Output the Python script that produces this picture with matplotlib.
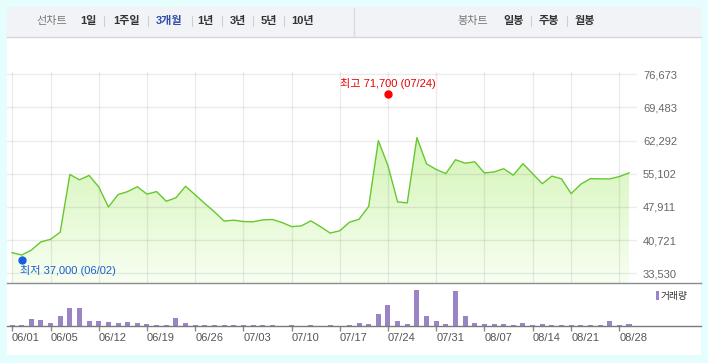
import matplotlib
matplotlib.use("Agg")
import matplotlib.pyplot as plt
import numpy as np
import pandas as pd
from matplotlib.lines import Line2D
from matplotlib.patches import Rectangle, PathPatch
from matplotlib.colors import LinearSegmentedColormap
from matplotlib.transforms import ScaledTranslation

plt.rcParams["font.family"] = ["Liberation Sans", "Noto Sans CJK KR", "DejaVu Sans"]

# trading days 2020-06-01 .. 2020-08-31, 08/17 was a holiday
days = pd.bdate_range("2020-06-01", "2020-08-31")
days = days[days != pd.Timestamp("2020-08-17")]
dates = [d.strftime("%m/%d") for d in days]

close = [
    38000, 37500, 38550, 40350, 40900, 42450, 54950, 53800, 54750, 52250,
    47900, 50600, 51250, 52300, 50700, 51250, 49150, 49900, 52400, 50550,
    48650, 46850, 44850, 45050, 44750, 44700, 45100, 45200, 44550, 43650,
    43800, 44900, 43650, 42250, 42750, 44600, 45250, 48050, 62300, 56850,
    49000, 48800, 62950, 57250, 56050, 55150, 58150, 57400, 57700, 55300,
    55500, 56200, 54800, 57300, 55150, 52950, 54600, 54000, 50800, 52850,
    54050, 54000, 54000, 54500, 55300,
]
volume = [
    120, 110, 820, 700, 360, 1180, 2110, 2100, 590, 600,
    470, 350, 480, 360, 240, 130, 120, 950, 350, 120,
    110, 120, 110, 120, 110, 120, 110, 120, 30, 110,
    30, 110, 30, 110, 30, 120, 360, 240, 1420, 2480,
    600, 250, 4250, 1180, 590, 240, 4130, 1180, 350, 240,
    240, 240, 120, 360, 120, 240, 120, 120, 120, 120,
    120, 120, 590, 120, 240,
]

tick_dates = ["06/01", "06/05", "06/12", "06/19", "06/26", "07/03", "07/10",
              "07/17", "07/24", "07/31", "08/07", "08/14", "08/21", "08/28"]
price_ticks = [33530, 40721, 47911, 55102, 62292, 69483, 76673]
price_labels = ["33,530", "40,721", "47,911", "55,102", "62,292", "69,483", "76,673"]

hi_value, hi_date = 71700, "07/24"
lo_value, lo_date = 37000, "06/02"

tabs_left = ["선차트", "1일", "1주일", "3개월", "1년", "3년", "5년", "10년"]
tabs_right = ["봉차트", "일봉", "주봉", "월봉"]

W, H = 708, 363
fig = plt.figure(figsize=(W / 100, H / 100), dpi=100)
fig.patch.set_facecolor("#e6fdfd")


def fx(px):
    return px / W


def fy(py):
    return 1 - py / H


# white panel + tab bar
fig.add_artist(Rectangle((fx(7), fy(355)), fx(701) - fx(7), fy(7) - fy(355),
                         transform=fig.transFigure, facecolor="white", edgecolor="none", zorder=0))
fig.add_artist(Rectangle((fx(7), fy(37)), fx(701) - fx(7), fy(7) - fy(37),
                         transform=fig.transFigure, facecolor="#f2f3f7", edgecolor="none", zorder=0))
fig.add_artist(Line2D([fx(7), fx(701)], [fy(37), fy(37)], color="#d6d6d6", lw=1, zorder=1))
fig.add_artist(Line2D([fx(353.5), fx(353.5)], [fy(8), fy(37)], color="#dcdcdc", lw=1, zorder=1))

left_x = [51.5, 88, 126.5, 169, 205.5, 237.5, 269, 303]
for i, (lbl, x) in enumerate(zip(tabs_left, left_x)):
    if i == 0:
        col, wt = "#777777", "normal"
    elif lbl == "3개월":
        col, wt = "#2f4fa8", "bold"
    else:
        col, wt = "#333333", "bold"
    fig.text(fx(x), fy(21), lbl, ha="center", va="center", fontsize=8, color=col, weight=wt)
for x in [104, 148, 192, 222, 253, 284]:
    fig.add_artist(Line2D([fx(x), fx(x)], [fy(16), fy(26)], color="#d0d0d0", lw=0.8))

right_x = [473, 514, 548.5, 585]
for i, (lbl, x) in enumerate(zip(tabs_right, right_x)):
    col, wt = ("#777777", "normal") if i == 0 else ("#333333", "bold")
    fig.text(fx(x), fy(21), lbl, ha="center", va="center", fontsize=8, color=col, weight=wt)
for x in [531, 567]:
    fig.add_artist(Line2D([fx(x), fx(x)], [fy(16), fy(26)], color="#d0d0d0", lw=0.8))

# price axes
x = np.arange(len(dates))
xmin, xmax = -0.52, 64.83
px_val = (76673 - 33530) / (273.3 - 74.3)
ybot = 33530 - (283.3 - 273.3) * px_val
ytop = 76673 + 2 * px_val

ax = fig.add_axes([fx(7), fy(283.3), fx(637) - fx(7), fy(72.3) - fy(283.3)])
ax.set_facecolor("none")
for s in ax.spines.values():
    s.set_visible(False)

poly = ax.fill_between(x, close, ybot, color="none", lw=0)
patch = PathPatch(poly.get_paths()[0], transform=ax.transData, facecolor="none", edgecolor="none")
ax.add_patch(patch)
cmap = LinearSegmentedColormap.from_list("g", ["#f8fff2", "#c3ef9c"])
grad = np.linspace(0, 1, 256).reshape(-1, 1)
im = ax.imshow(grad, extent=[xmin, xmax, ybot, ytop], origin="lower", aspect="auto",
               cmap=cmap, zorder=1)
im.set_clip_path(patch)

ax.plot(x, close, color="#66c82e", lw=1.0, zorder=3)

tick_idx = [dates.index(d) for d in tick_dates]
ax.set_xticks(tick_idx)
ax.set_yticks(price_ticks)
ax.set_yticklabels(price_labels)
ax.tick_params(axis="x", length=0, labelbottom=False)
ax.tick_params(axis="y", length=0, labelleft=False, labelright=True, pad=4.3,
               labelsize=8, labelcolor="#666666")
ax.grid(True, color="#000000", alpha=0.075, lw=1)
ax.set_axisbelow(False)
ax.set_xlim(xmin, xmax)
ax.set_ylim(ybot, ytop)

# high / low markers
hi_i, lo_i = dates.index(hi_date), dates.index(lo_date)
up = ax.transData + ScaledTranslation(0, 3 / 100, fig.dpi_scale_trans)
dn = ax.transData + ScaledTranslation(0, -3 / 100, fig.dpi_scale_trans)
ax.plot([hi_i], [hi_value], "o", color="#ff0000", ms=5, transform=up, zorder=4, clip_on=False)
ax.plot([lo_i], [lo_value], "o", color="#1660de", ms=5, transform=dn, zorder=4, clip_on=False)
ax.annotate(f"최고 {hi_value:,} ({hi_date})", (hi_i, hi_value), xytext=(0, 10),
            textcoords="offset points", ha="center", va="center", fontsize=8,
            color="#e60000", zorder=5)
ax.annotate(f"최저 {lo_value:,} ({lo_date})", (lo_i, lo_value), xytext=(-1.2, -9.6),
            textcoords="offset points", ha="left", va="center", fontsize=8,
            color="#1a5fd0", zorder=5)

# volume axes
ax2 = fig.add_axes([fx(7), fy(326), fx(637) - fx(7), fy(283.3) - fy(326)])
ax2.set_facecolor("none")
for s in ax2.spines.values():
    s.set_visible(False)
ax2.bar(x, volume, width=0.52, color="#9a84c6", lw=0)
ax2.set_xlim(xmin, xmax)
ax2.set_ylim(0, max(volume) * 1.19)
ax2.set_yticks([])
ax2.set_xticks(tick_idx)
ax2.set_xticklabels(tick_dates)
ax2.tick_params(axis="x", length=3.6, width=1, color="#8a8a8a", pad=1.4,
                labelsize=8, labelcolor="#555555")
for lbl in ax2.get_xticklabels():
    lbl.set_ha("left")

# baselines spanning the panel
fig.add_artist(Line2D([fx(7), fx(701)], [fy(283.3), fy(283.3)], color="#8c8c8c", lw=1, zorder=5))
fig.add_artist(Line2D([fx(7), fx(701)], [fy(326), fy(326)], color="#7a7a7a", lw=1, zorder=5))

# volume legend
fig.add_artist(Rectangle((fx(656), fy(300)), fx(3), fy(291) - fy(300),
                         transform=fig.transFigure, facecolor="#9a84c6", edgecolor="none"))
fig.text(fx(661), fy(296), "거래량", ha="left", va="center", fontsize=7, color="#333333")

fig.savefig("out.png", dpi=100, facecolor=fig.get_facecolor())
